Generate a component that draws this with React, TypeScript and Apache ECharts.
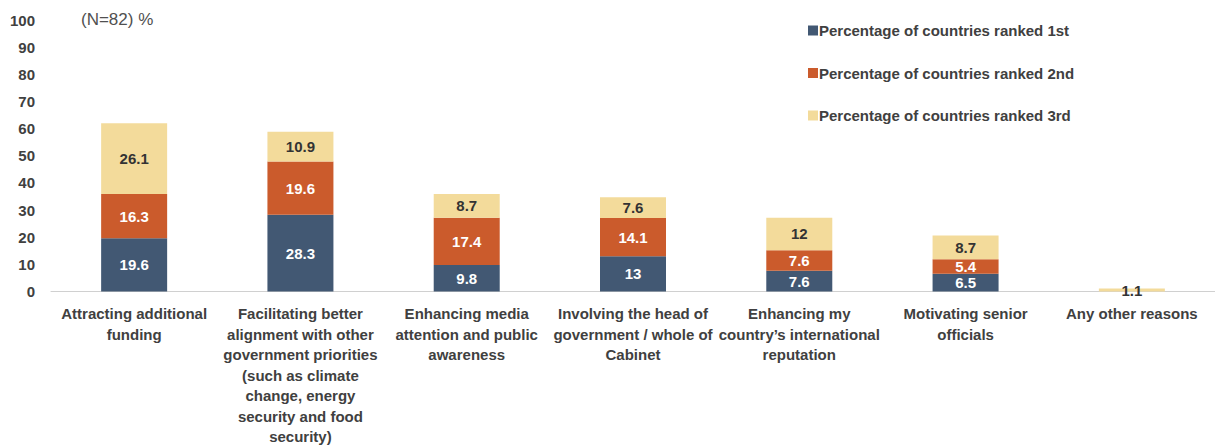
import React, { useEffect, useRef } from "react";
import * as echarts from "echarts";

const categories = [
  "Attracting additional\nfunding",
  "Facilitating better\nalignment with other\ngovernment priorities\n(such as climate\nchange, energy\nsecurity and food\nsecurity)",
  "Enhancing media\nattention and public\nawareness",
  "Involving the head of\ngovernment / whole of\nCabinet",
  "Enhancing my\ncountry’s international\nreputation",
  "Motivating senior\nofficials",
  "Any other reasons",
];
const ranked1st = [19.6, 28.3, 9.8, 13, 7.6, 6.5, 0];
const ranked2nd = [16.3, 19.6, 17.4, 14.1, 7.6, 5.4, 0];
const ranked3rd = [26.1, 10.9, 8.7, 7.6, 12, 8.7, 1.1];
const seriesNames = [
  "Percentage of countries ranked 1st",
  "Percentage of countries ranked 2nd",
  "Percentage of countries ranked 3rd",
];
const colors = ["#425873", "#CB5B2C", "#F3DB9B"];
const FONT = "'Liberation Sans', Arial, sans-serif";

export default function App() {
  const ref = useRef<HTMLDivElement>(null);
  useEffect(() => {
    const chart = echarts.init(ref.current!, null, { renderer: "svg" });
    const mk = (name: string, data: number[], i: number) => ({
      name,
      type: "bar",
      stack: "total",
      data: data.map((v) => (v === 0 ? null : v)),
      barWidth: 66,
      itemStyle: { color: colors[i] },
      label: {
        show: true,
        position: "inside",
        color: i === 2 ? "#333333" : "#ffffff",
        fontWeight: "bold",
        fontSize: 15,
        fontFamily: FONT,
      },
    });
    chart.setOption({
      animation: false,
      color: colors,
      grid: { left: 51, right: -10, top: 20, bottom: 155 },
      graphic: [
        {
          type: "text",
          left: 81,
          top: 11,
          style: { text: "(N=82) %", fontSize: 17, fill: "#505050", fontFamily: FONT },
        },
      ],
      legend: {
        orient: "vertical",
        left: 803,
        top: 18,
        itemGap: 27.5,
        itemWidth: 10,
        itemHeight: 10,
        icon: "rect",
        textStyle: { fontSize: 15, fontWeight: "bold", color: "#404040", fontFamily: FONT, padding: [0, 0, 0, -4] },
        data: seriesNames,
      },
      xAxis: {
        type: "category",
        data: categories,
        axisLine: { lineStyle: { color: "#d0d0d0" } },
        axisTick: { show: false },
        axisLabel: {
          interval: 0,
          fontSize: 15,
          fontWeight: "bold",
          color: "#404040",
          lineHeight: 20.5,
          margin: 12,
          fontFamily: FONT,
        },
      },
      yAxis: {
        type: "value",
        min: 0,
        max: 100,
        interval: 10,
        splitLine: { show: false },
        axisLine: { show: false },
        axisLabel: { fontSize: 15, fontWeight: "bold", color: "#404040", margin: 16, fontFamily: FONT },
      },
      series: [mk(seriesNames[0], ranked1st, 0), mk(seriesNames[1], ranked2nd, 1), mk(seriesNames[2], ranked3rd, 2)],
    });
    return () => chart.dispose();
  }, []);
  return <div ref={ref} style={{ position: "absolute", left: 0, top: 0, width: 1215, height: 447 }} />;
}
